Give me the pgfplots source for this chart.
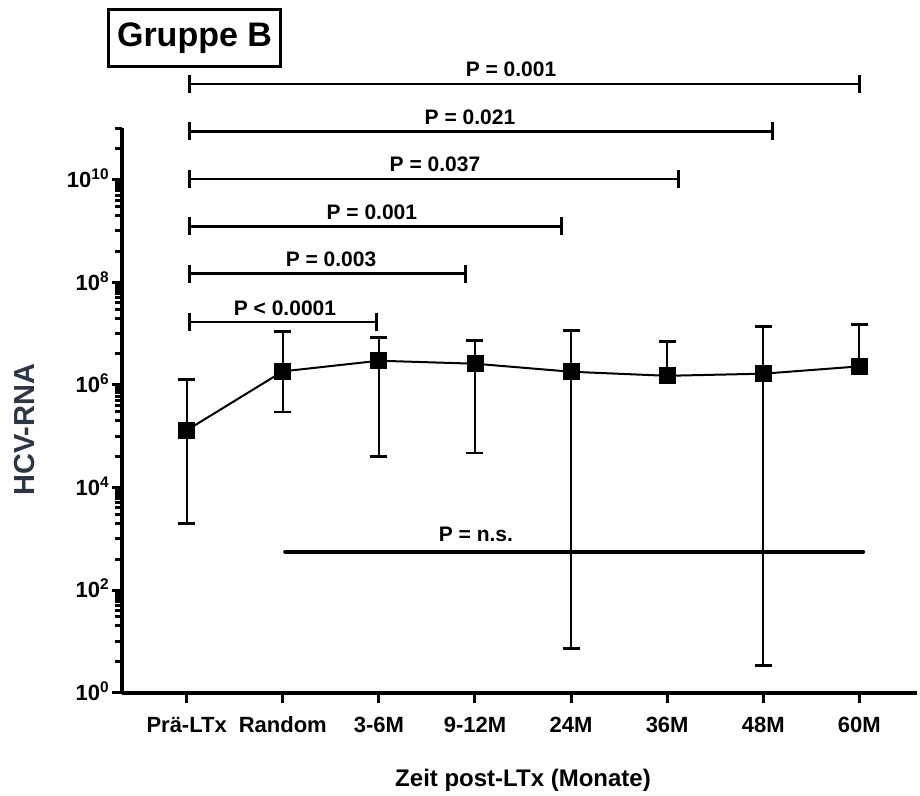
\documentclass[border=0pt]{standalone}
\usepackage{fontspec}
\setmainfont{Liberation Sans}
\usepackage{pgfplots}
\pgfplotsset{compat=1.18}
\definecolor{ylab}{RGB}{44,54,69}

% p-value bracket: from x=#1 to x=#2 at height #3, label at x=#4
\newcommand{\pbar}[5]{%
  \draw[line width=1.4pt] (axis cs:#1,#3) -- (axis cs:#2,#3);
  \draw[line width=1.5pt] ([yshift=-4.5pt]axis cs:#1,#3) -- ([yshift=4.5pt]axis cs:#1,#3);
  \draw[line width=1.5pt] ([yshift=-4.5pt]axis cs:#2,#3) -- ([yshift=4.5pt]axis cs:#2,#3);
  \node[anchor=base, inner sep=0pt, font=\fontsize{10.5}{12}\selectfont\bfseries]
    at ([yshift=3.5pt]axis cs:#4,#3) {#5};
}

\begin{document}
\begin{tikzpicture}
\begin{axis}[
  at={(0,0)}, anchor=south west,
  scale only axis,
  width=397.5pt, height=282.2pt,
  clip=false,
  axis lines=left,
  axis line style={-, line width=2pt},
  xmin=-0.673, xmax=7.6,
  ymode=log, ymin=1, ymax=1e11,
  xtick={0,...,7},
  xticklabels={Prä-LTx, Random, 3-6M, 9-12M, 24M, 36M, 48M, 60M},
  ytick={1,1e2,1e4,1e6,1e8,1e10},
  yticklabels={10\textsuperscript{0}, 10\textsuperscript{2}, 10\textsuperscript{4},
               10\textsuperscript{6}, 10\textsuperscript{8}, 10\textsuperscript{10}},
  minor ytick={4e0,1e1,2e1,3e1,4e1,5e1,6e1,7e1,8e1,9e1,
    4e2,1e3,2e3,3e3,4e3,5e3,6e3,7e3,8e3,9e3,
    4e4,1e5,2e5,3e5,4e5,5e5,6e5,7e5,8e5,9e5,
    4e6,1e7,2e7,3e7,4e7,5e7,6e7,7e7,8e7,9e7,
    4e8,1e9,2e9,3e9,4e9,5e9,6e9,7e9,8e9,9e9,
    4e10,1e11},
  tick align=outside,
  major tick length=5pt,
  minor tick length=3.3pt,
  tick style={line width=1.5pt, black},
  xtick pos=bottom, ytick pos=left,
  xticklabel style={font=\fontsize{11}{13}\selectfont\bfseries, anchor=north,
    text height=8pt, text depth=0pt, inner sep=0pt, yshift=-6.5pt},
  yticklabel style={font=\fontsize{11}{13}\selectfont\bfseries, anchor=base east,
    inner sep=0pt, xshift=-1pt, yshift=-3.9pt},
]

% error bars, one segment per time point (lower end, upper end)
\addplot[black, line width=1.1pt, mark=-, mark size=4.25pt,
  mark options={line width=1.4pt}, unbounded coords=jump] coordinates {
  (0,2.0e3) (0,1.26e6) (0,nan)
  (1,2.95e5) (1,1.11e7) (1,nan)
  (2,4.06e4) (2,8.4e6) (2,nan)
  (3,4.7e4) (3,7.4e6) (3,nan)
  (4,7.2) (4,1.14e7) (4,nan)
  (5,1.5e6) (5,7.0e6) (5,nan)
  (6,3.36) (6,1.39e7) (6,nan)
  (7,2.29e6) (7,1.52e7)
};

% means
\addplot[black, line width=1pt, mark=square*, mark size=4pt,
  mark options={line width=0.4pt}] coordinates {
  (0,1.3e5) (1,1.83e6) (2,2.95e6) (3,2.58e6)
  (4,1.8e6) (5,1.5e6) (6,1.65e6) (7,2.29e6)
};

\pbar{0.034}{7.006}{7.3e11}{3.375}{P = 0.001}
\pbar{0.034}{6.094}{8.7e10}{2.948}{P = 0.021}
\pbar{0.034}{5.123}{1.03e10}{2.584}{P = 0.037}
\pbar{0.034}{3.902}{1.22e9}{1.927}{P = 0.001}
\pbar{0.034}{2.903}{1.46e8}{1.502}{P = 0.003}
\pbar{0.034}{1.977}{1.67e7}{1.023}{P < 0.0001}

\draw[line width=2.3pt, line cap=round] (axis cs:1.028,556) -- (axis cs:7.037,556);
\node[anchor=base, inner sep=0pt, font=\fontsize{10.5}{12}\selectfont\bfseries]
  at ([yshift=5pt]axis cs:3.01,556) {P = n.s.};
\end{axis}

\node[draw, line width=1.5pt, minimum width=86pt, minimum height=28.5pt, inner sep=0pt,
  font=\fontsize{17}{20}\selectfont\bfseries] at (36.25pt,327.5pt) {Gruppe B};
\node[rotate=90, text=ylab, inner sep=0pt, font=\fontsize{14.5}{17}\selectfont\bfseries]
  at (-48.5pt,131.5pt) {HCV-RNA};
\node[anchor=base, inner sep=0pt, font=\fontsize{12}{14}\selectfont\bfseries]
  at (200.5pt,-47.15pt) {Zeit post-LTx (Monate)};

\path (-61pt,-51.65pt) rectangle (399pt,346.35pt);
\end{tikzpicture}
\end{document}
